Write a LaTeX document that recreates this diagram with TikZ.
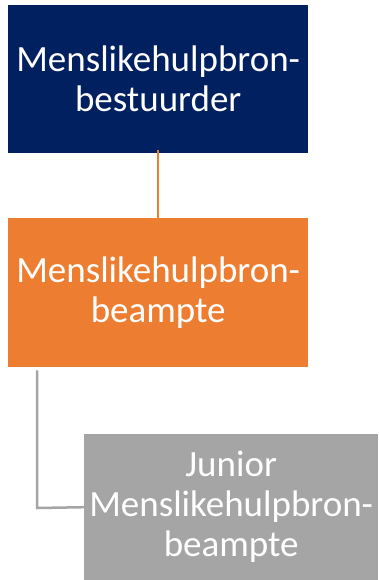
\documentclass[tikz,border=0pt]{standalone}
\usepackage{fontspec}
\setmainfont{Carlito}
\definecolor{navy}{HTML}{002060}
\definecolor{accent}{HTML}{ED7D31}
\definecolor{muted}{HTML}{A5A5A5}
\begin{document}
\begin{tikzpicture}[x=1pt,y=-1pt,
  card/.style={anchor=north west, inner sep=0pt, text=white, align=center,
    font=\fontsize{37}{40}\selectfont},
  link/.style={line width=2.5pt}]
\useasboundingbox (0,0) rectangle (378,580);
% top position
\node[card, fill=navy, minimum width=300pt, minimum height=148pt] (head) at (8,5)
  {Menslikehulpbron-\\bestuurder};
% middle position
\node[card, fill=accent, minimum width=300pt, minimum height=149pt] (officer) at (8,218)
  {Menslikehulpbron-\\beampte};
% junior position
\node[card, fill=muted, minimum width=294pt, minimum height=146pt] (junior) at (84,434)
  {Junior\\Menslikehulpbron-\\beampte};
\coordinate (bend) at (37,508);
% connectors
\draw[link, accent] ([yshift=3pt]head.south) -- ([yshift=-1pt]officer.north);
\draw[link, muted] (officer.south west -| bend) ++(0,3) -- (bend) -- (junior.west);
\end{tikzpicture}
\end{document}
